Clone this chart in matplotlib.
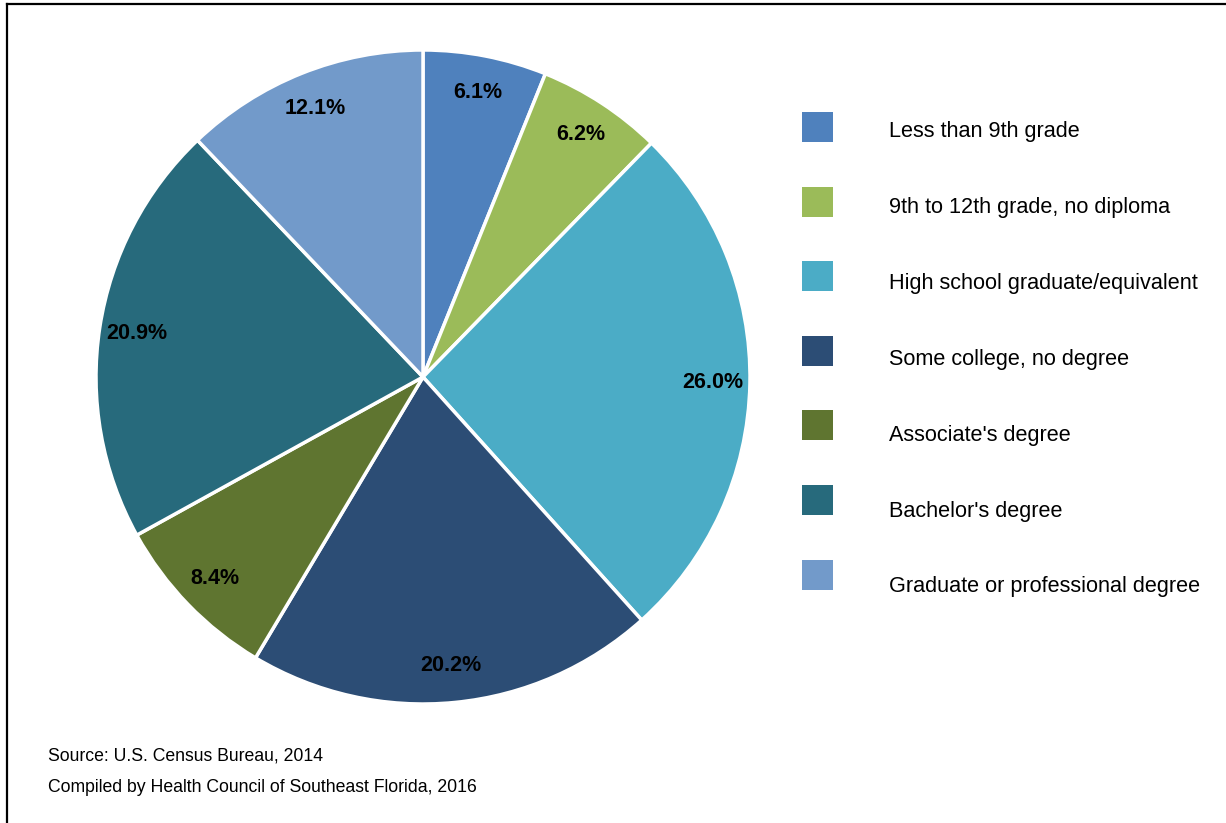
import matplotlib.pyplot as plt
from matplotlib.patches import Rectangle
from matplotlib.lines import Line2D

plt.rcParams['font.family'] = ['Liberation Sans', 'DejaVu Sans']

# Educational attainment shares (percent)
categories = [
    "Less than 9th grade",
    "9th to 12th grade, no diploma",
    "High school graduate/equivalent",
    "Some college, no degree",
    "Associate's degree",
    "Bachelor's degree",
    "Graduate or professional degree",
]
values = [6.1, 6.2, 26.0, 20.2, 8.4, 20.9, 12.1]
colors = ["#4F81BD", "#9BBB59", "#4BACC6", "#2C4D75", "#5F7530", "#276A7C", "#729ACA"]

W, H = 1226, 823
fig = plt.figure(figsize=(W / 100, H / 100), dpi=100)


def fx(px):
    return px / W


def fy(py):
    return 1 - py / H


# pie axes: center at (423, 377) px, radius ~327 px
cx, cy, r = 423, 377, 327
lim = 1.02
half = r * lim
ax = fig.add_axes([fx(cx - half), fy(cy + half), 2 * half / W, 2 * half / H])

total = sum(values)
wedges, texts, autotexts = ax.pie(
    values, colors=colors, startangle=90, counterclock=False,
    radius=1.0, pctdistance=0.885,
    autopct=lambda p: f"{p * total / 100:.1f}%",
    wedgeprops=dict(edgecolor="white", linewidth=2.5),
    textprops=dict(fontsize=15.5, fontweight="bold", color="black"),
)
ax.set_xlim(-lim, lim)
ax.set_ylim(-lim, lim)
ax.axis("off")

# legend drawn by hand
for i, (name, col) in enumerate(zip(categories, colors)):
    ys = 127 + 74.6 * i
    yt = 130 + 75.8 * i
    fig.patches.append(Rectangle((fx(802), fy(ys + 15)), 31 / W, 30 / H,
                                 transform=fig.transFigure, facecolor=col,
                                 edgecolor="none"))
    fig.text(fx(889), fy(yt + 2), name, fontsize=15.6, va="center", ha="left")

# source notes
fig.text(fx(48), fy(756), "Source: U.S. Census Bureau, 2014", fontsize=12.7, va="center")
fig.text(fx(48), fy(787), "Compiled by Health Council of Southeast Florida, 2016",
         fontsize=12.7, va="center")

# frame edges (left and top)
fig.lines.append(Line2D([fx(7), fx(7)], [fy(4), 0], transform=fig.transFigure,
                        color="black", linewidth=1.6))
fig.lines.append(Line2D([fx(7), 1], [fy(4), fy(4)], transform=fig.transFigure,
                        color="black", linewidth=1.6))

fig.savefig("out.png", dpi=100, facecolor="white")
